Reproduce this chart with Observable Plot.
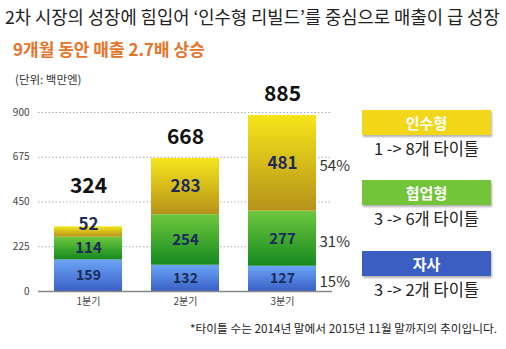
<!DOCTYPE html>
<html><head><meta charset="utf-8">
<script src="https://cdn.jsdelivr.net/npm/d3@7"></script>
<script src="https://cdn.jsdelivr.net/npm/@observablehq/plot@0.6"></script>
<style>
body{margin:0;background:#fff;}
#wrap{position:relative;width:506px;height:349px;overflow:hidden;font-family:"Noto Sans CJK KR","Noto Sans",sans-serif;}
.abs{position:absolute;white-space:nowrap;}
#title{left:5px;top:4px;font-size:17.7px;color:#222;line-height:24px;}
#subtitle{left:13px;top:38px;font-size:17px;font-weight:700;color:#e8742a;line-height:22px;}
#unit{left:15px;top:71px;font-size:11.5px;color:#333;line-height:16px;}
#chart{left:0;top:86px;}
#chart svg{overflow:visible;}
#chart svg text{font-family:"Noto Sans CJK KR",sans-serif;}
.lbox{position:absolute;left:362px;width:129px;height:25px;line-height:25px;text-align:center;color:#fff;font-weight:700;font-size:15px;box-shadow:1px 2px 2px rgba(0,0,0,0.3);}
.lnote{position:absolute;left:352px;width:149px;text-align:center;line-height:20px;font-size:16.5px;color:#222;}
#foot{right:9px;top:320px;font-size:11.7px;color:#222;line-height:16px;}
</style></head>
<body><div id="wrap">
<div id="title" class="abs">2차 시장의 성장에 힘입어 ‘인수형 리빌드’를 중심으로 매출이 급 성장</div>
<div id="subtitle" class="abs">9개월 동안 매출 2.7배 상승</div>
<div id="unit" class="abs">(단위: 백만엔)</div>
<div id="chart" class="abs"></div>
<div id="legend"></div>
<div id="foot" class="abs">*타이틀 수는 2014년 말에서 2015년 11월 말까지의 추이입니다.</div>
</div>
<script>
// ---- data ----
const quarters = ["1분기", "2분기", "3분기"];
const series = ["자사", "협업형", "인수형"]; // bottom -> top
const valJasa = [159, 132, 127];
const valHyeop = [114, 254, 277];
const valInsu = [52, 283, 481];
const totals = [324, 668, 885];
const sharesQ3 = ["15%", "31%", "54%"];
const yTicks = [0, 225, 450, 675, 900];
const legendNames = ["인수형", "협업형", "자사"];
const legendNotes = ["1 -> 8개 타이틀", "3 -> 6개 타이틀", "3 -> 2개 타이틀"];

// ---- styles ----
const gradIds = ["gBlue", "gGreen", "gYellow"];
const gradStops = [["#6ba5f7", "#3a60c6"], ["#6ec83e", "#16891f"], ["#f6e51a", "#b6921a"]];
const boxColors = {"인수형": "#f1d619", "협업형": "#74c43a", "자사": "#3a5ec2"};
const labelSize = {"자사": 14, "협업형": 15, "인수형": 17};
const FONT = '"Noto Sans CJK KR", sans-serif';

const seriesVals = [valJasa, valHyeop, valInsu];
const rows = [];
quarters.forEach((q, qi) => {
  let acc = 0;
  series.forEach((s, si) => {
    const v = seriesVals[si][qi];
    rows.push({quarter: q, series: s, value: v, y0: acc, y1: acc + v, share: qi === quarters.length - 1 ? sharesQ3[si] : null});
    acc += v;
  });
});
const totalRows = quarters.map((q, i) => ({quarter: q, total: totals[i], small: valInsu[i] < 100}));

const chart = Plot.plot({
  width: 506, height: 230,
  marginTop: 26, marginBottom: 25, marginLeft: 38, marginRight: 174,
  style: {fontFamily: FONT, fontSize: "10px", color: "#444", background: "transparent"},
  x: {domain: quarters, paddingInner: 0.294, paddingOuter: 0.152, tickSize: 0, tickPadding: 6, label: null},
  y: {domain: [0, 900], ticks: yTicks, tickSize: 0, tickPadding: 9, label: null},
  color: {domain: series, range: gradIds.map(id => `url(#${id})`)},
  marks: [
    Plot.ruleY(yTicks.filter(t => t > 0), {stroke: "#aaa", strokeDasharray: "1.5,2", strokeWidth: 1}),
    Plot.barY(rows, {x: "quarter", y1: "y0", y2: "y1", fill: "series"}),
    Plot.ruleY([0], {stroke: "#888", strokeWidth: 1.5}),
    Plot.text(rows.filter(d => !(d.series === "인수형" && d.value < 100)), {
      x: "quarter", y: d => (d.y0 + d.y1) / 2, text: d => String(d.value),
      fontSize: d => labelSize[d.series], fontWeight: 700, fill: "#1b2a5a", fontFamily: FONT
    }),
    Plot.text(rows.filter(d => d.series === "인수형" && d.value < 100), {
      x: "quarter", y: d => (d.y0 + d.y1) / 2, text: d => String(d.value),
      fontSize: d => labelSize[d.series], fontWeight: 700, fill: "#1b2a5a", dy: -7, fontFamily: FONT
    }),
    Plot.text(totalRows.filter(d => !d.small), {x: "quarter", y: "total", text: d => String(d.total), fontSize: 21, fontWeight: 700, fill: "#111", dy: -21, fontFamily: FONT}),
    Plot.text(totalRows.filter(d => d.small), {x: "quarter", y: "total", text: d => String(d.total), fontSize: 21, fontWeight: 700, fill: "#111", dy: -41, fontFamily: FONT}),
    Plot.text(rows.filter(d => d.share), {
      x: "quarter", y: d => (d.y0 + d.y1) / 2, text: "share",
      fontSize: 15, fill: "#333", textAnchor: "start", dx: 37, dy: 3, fontFamily: FONT
    })
  ]
});

// gradients
const defs = d3.select(chart).insert("defs", ":first-child");
gradIds.forEach((id, i) => {
  const g = defs.append("linearGradient").attr("id", id).attr("x1", 0).attr("y1", 0).attr("x2", 0).attr("y2", 1);
  g.append("stop").attr("offset", "0%").attr("stop-color", gradStops[i][0]);
  g.append("stop").attr("offset", "100%").attr("stop-color", gradStops[i][1]);
});
document.getElementById("chart").appendChild(chart);

// legend
const boxTops = [110, 180, 251];
const legend = document.getElementById("legend");
legendNames.forEach((name, i) => {
  const b = document.createElement("div");
  b.className = "lbox"; b.style.top = boxTops[i] + "px"; b.style.background = boxColors[name];
  b.textContent = name; legend.appendChild(b);
  const n = document.createElement("div");
  n.className = "lnote"; n.style.top = (boxTops[i] + 28) + "px";
  n.textContent = legendNotes[i]; legend.appendChild(n);
});
</script>
</body></html>
